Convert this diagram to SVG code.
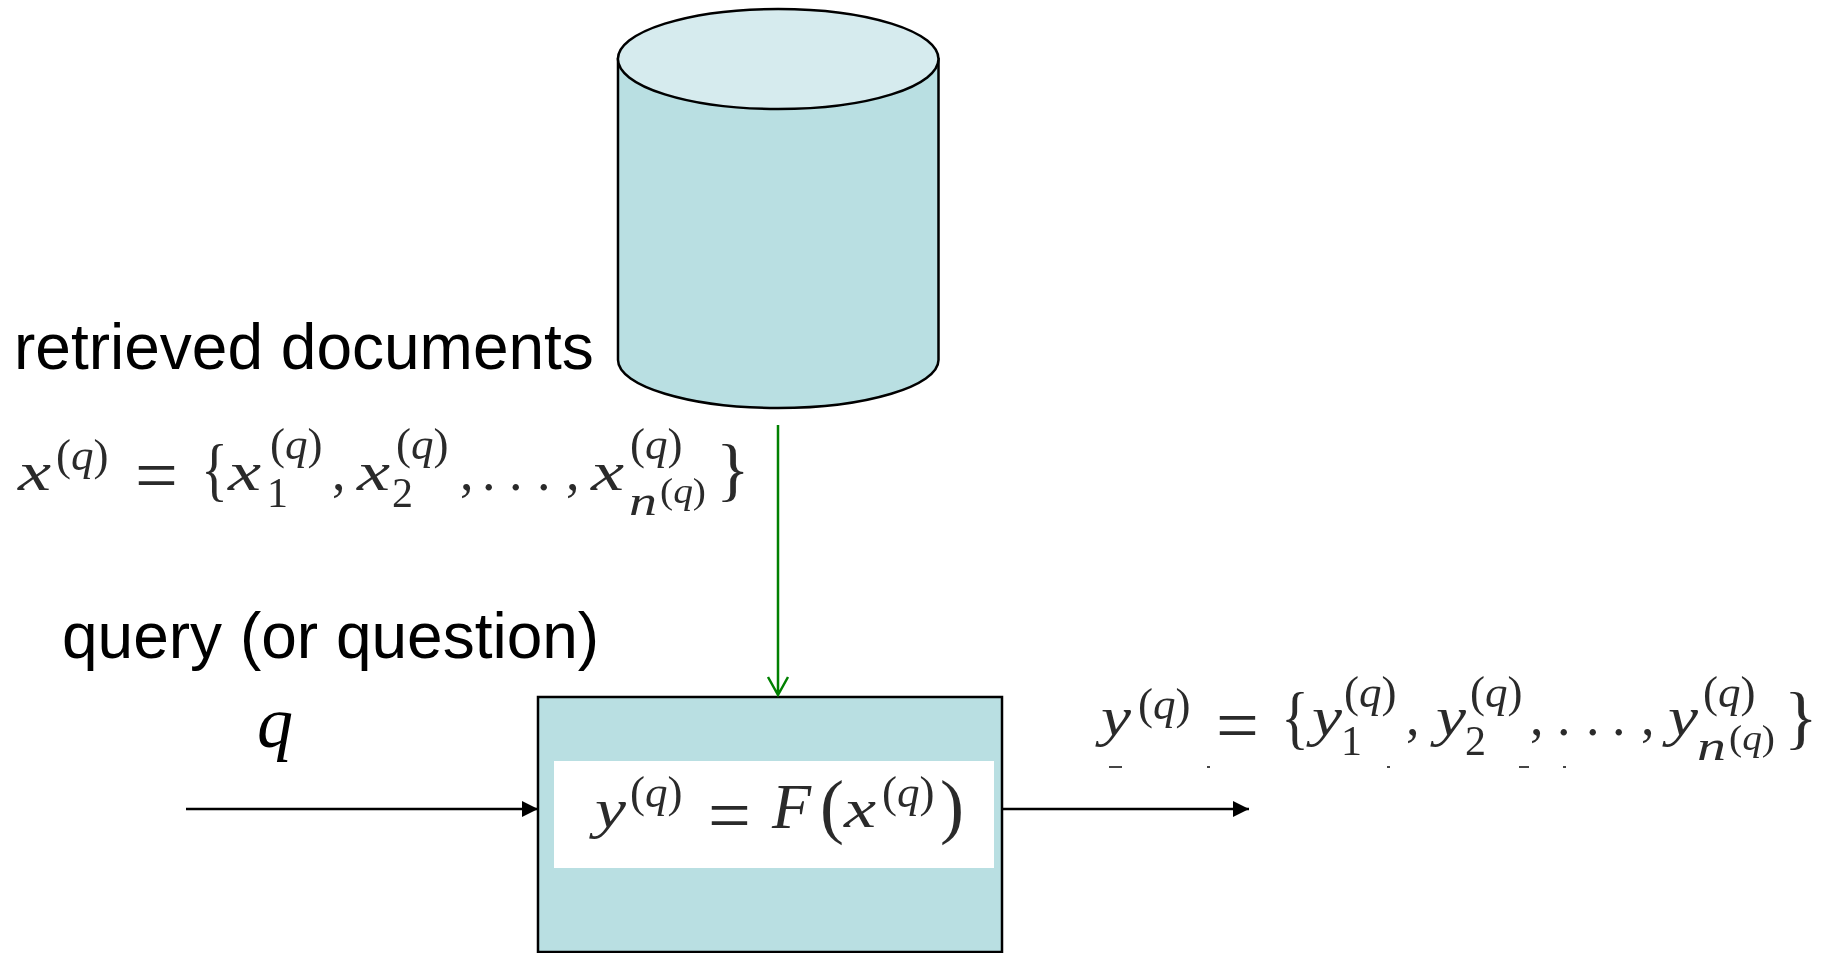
<svg xmlns="http://www.w3.org/2000/svg" width="1824" height="953" viewBox="0 0 1824 953">
<style>
.lbl{font-family:"Liberation Sans",Arial,sans-serif;font-size:64px;fill:#000}
.m{font-family:"Liberation Serif","Times New Roman",serif;fill:#2c2c2c}
.i{font-style:italic}
.b{font-size:54px}
.e{font-size:76px}
.br{font-size:70px}
.s{font-size:45px}
.d{font-size:42px}
.xs{font-size:36px}
.shape{stroke:#000;stroke-width:2.5}
.cn{fill:none;stroke:#000;stroke-width:2.5}
</style>
<defs>
<filter id="soft" x="-5%" y="-5%" width="110%" height="110%"><feGaussianBlur stdDeviation="0.6"/></filter>
<marker id="solid" markerUnits="userSpaceOnUse" markerWidth="18" markerHeight="18" refX="16" refY="8" orient="auto"><path d="M0 0L16 8L0 16Z" fill="#000"/></marker>
</defs>
<rect width="1824" height="953" fill="#fff"/>
<g id="database">
<path class="shape" fill="#b9dfe2" d="M618 59V360C618 386 690 408 778 408S938.500 386 938.500 360V59Z"/>
<ellipse class="shape" fill="#d6ebee" cx="778.200" cy="59" rx="160.300" ry="50"/>
</g>
<g id="function-box">
<rect class="shape" fill="#b9dfe2" x="538" y="697" width="464" height="255"/>
<rect x="554" y="761" width="440" height="107" fill="#fff"/>
<g filter="url(#soft)" class="m">
<text x="595" y="827" class="b i" textLength="31" lengthAdjust="spacingAndGlyphs">y</text>
<text x="630" y="807" class="s">(<tspan class="i">q</tspan>)</text>
<text x="708" y="841" class="e">=</text>
<text x="772" y="828" style="font-size:64px" class="i">F</text>
<text x="820" y="830" style="font-size:72px">(</text>
<text x="844" y="827" class="b i" textLength="32" lengthAdjust="spacingAndGlyphs">x</text>
<text x="882" y="807" class="s">(<tspan class="i">q</tspan>)</text>
<text x="940" y="830" style="font-size:72px">)</text>
</g>
</g>
<g id="connectors">
<path class="cn" marker-end="url(#solid)" d="M186 809H538"/>
<path class="cn" marker-end="url(#solid)" d="M1002 809H1249"/>
<path class="cn" style="stroke:#008000" d="M778 425V695M768 677L778 695L788 677"/>
</g>
<g id="label-retrieved"><text class="lbl" x="14" y="369">retrieved documents</text></g>
<g id="label-query"><text class="lbl" x="62" y="658">query (or question)</text></g>
<g id="label-q"><text x="257" y="747" style="font-family:'Liberation Serif',serif;font-style:italic;font-size:72px">q</text></g>
<g id="formula-x" class="m" filter="url(#soft)">
<text x="18" y="490" class="b i" textLength="33" lengthAdjust="spacingAndGlyphs">x</text>
<text x="56" y="470" class="s">(<tspan class="i">q</tspan>)</text>
<text x="135" y="501" class="e">=</text>
<text x="201" y="493" class="br" textLength="27" lengthAdjust="spacingAndGlyphs">{</text>
<text x="228" y="490" class="b i" textLength="33" lengthAdjust="spacingAndGlyphs">x</text>
<text x="270" y="459" class="s">(<tspan class="i">q</tspan>)</text>
<text x="267" y="507" class="d">1</text>
<text x="332" y="490" class="b">,</text>
<text x="357" y="490" class="b i" textLength="33" lengthAdjust="spacingAndGlyphs">x</text>
<text x="396" y="459" class="s">(<tspan class="i">q</tspan>)</text>
<text x="392" y="507" class="d">2</text>
<text x="460" y="490" class="b">,</text>
<text x="482" y="490" class="b">.</text>
<text x="509" y="490" class="b">.</text>
<text x="537" y="490" class="b">.</text>
<text x="566" y="490" class="b">,</text>
<text x="591" y="490" class="b i" textLength="33" lengthAdjust="spacingAndGlyphs">x</text>
<text x="630" y="459" class="s">(<tspan class="i">q</tspan>)</text>
<text x="629" y="515" class="d i" textLength="28" lengthAdjust="spacingAndGlyphs">n</text>
<text x="660" y="503" class="xs" textLength="46" lengthAdjust="spacingAndGlyphs">(<tspan class="i">q</tspan>)</text>
<text x="716" y="493" class="br">}</text>
</g>
<g id="formula-y" class="m" filter="url(#soft)">
<text x="1101" y="735" class="b i" textLength="30" lengthAdjust="spacingAndGlyphs">y</text>
<text x="1138" y="719" class="s">(<tspan class="i">q</tspan>)</text>
<text x="1216" y="751" class="e">=</text>
<text x="1281" y="741" class="br" textLength="28" lengthAdjust="spacingAndGlyphs">{</text>
<text x="1312" y="735" class="b i" textLength="30" lengthAdjust="spacingAndGlyphs">y</text>
<text x="1344" y="707" class="s">(<tspan class="i">q</tspan>)</text>
<text x="1341" y="755" class="d">1</text>
<text x="1406" y="735" class="b">,</text>
<text x="1436" y="735" class="b i" textLength="30" lengthAdjust="spacingAndGlyphs">y</text>
<text x="1470" y="707" class="s">(<tspan class="i">q</tspan>)</text>
<text x="1465" y="755" class="d">2</text>
<text x="1530" y="735" class="b">,</text>
<text x="1557" y="735" class="b">.</text>
<text x="1586" y="735" class="b">.</text>
<text x="1612" y="735" class="b">.</text>
<text x="1641" y="735" class="b">,</text>
<text x="1668" y="735" class="b i" textLength="30" lengthAdjust="spacingAndGlyphs">y</text>
<text x="1703" y="707" class="s">(<tspan class="i">q</tspan>)</text>
<text x="1697" y="760" class="d i" textLength="29" lengthAdjust="spacingAndGlyphs">n</text>
<text x="1729" y="750" class="xs" textLength="46" lengthAdjust="spacingAndGlyphs">(<tspan class="i">q</tspan>)</text>
<text x="1784" y="741" class="br">}</text>
<g fill="#444"><rect x="1109" y="766" width="13" height="2"/><rect x="1207" y="766" width="3" height="2"/><rect x="1387" y="766" width="3" height="2"/><rect x="1519" y="766" width="10" height="2"/><rect x="1563" y="766" width="3" height="2"/></g>
</g>
</svg>
